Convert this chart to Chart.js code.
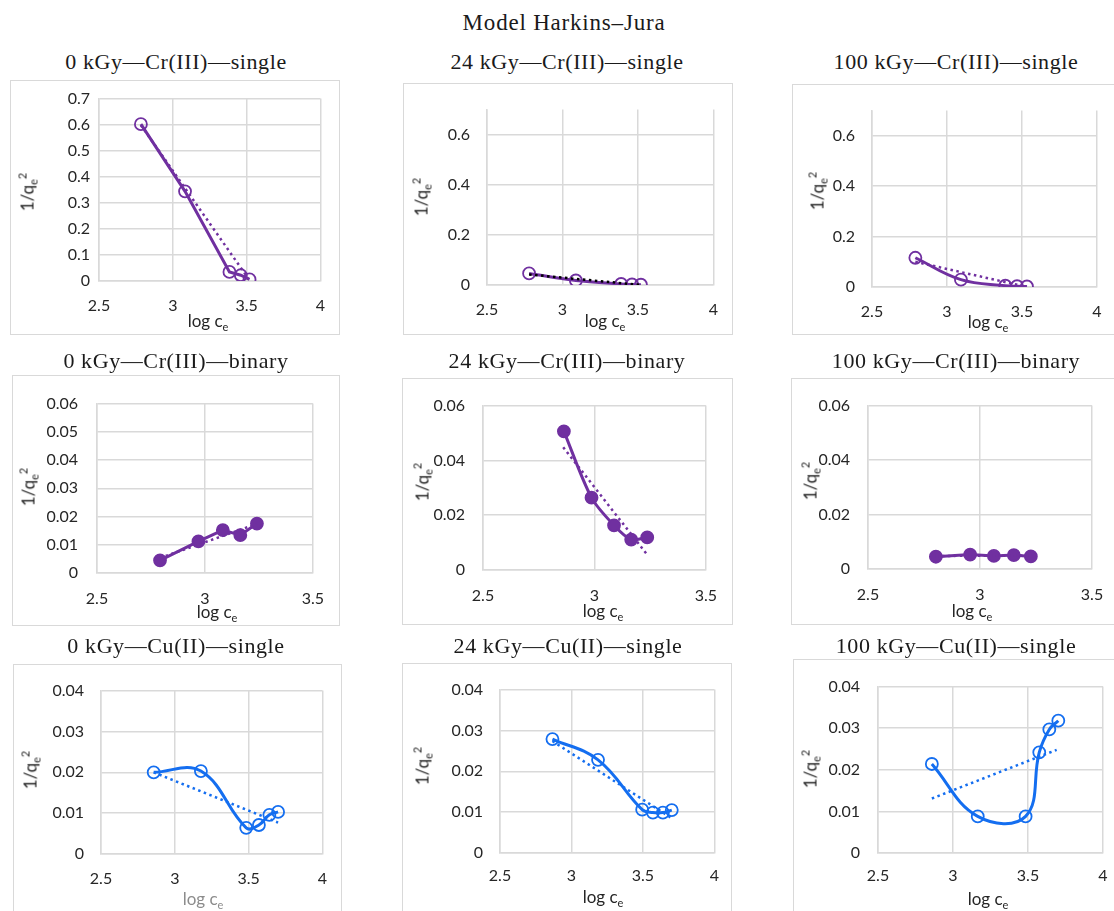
<!DOCTYPE html>
<html>
<head>
<meta charset="utf-8">
<title>Model Harkins–Jura</title>
<script src="https://cdn.jsdelivr.net/npm/chart.js@4.4.1/dist/chart.umd.min.js"></script>
<style>
    body { margin: 0; background: #fff; width: 1114px; height: 911px; overflow: hidden; position: relative; }
    .box { position: absolute; border: 1.5px solid #d9d9d9; box-sizing: border-box; }
    .chart { position: absolute; }
    .ttl { position: absolute; font-family: "Liberation Serif", serif; font-size: 22px; line-height: 22px;
           letter-spacing: 0.6px; color: #1a1a1a; white-space: nowrap; transform: translateX(-50%); }
    .xtitle, .ytitle { position: absolute; font-family: Lato, sans-serif; font-size: 17px; line-height: 17px;
                       color: #262626; white-space: nowrap; }
    .xtitle { transform: translateX(-50%); }
    .ytitle { transform: translate(-50%, -50%) rotate(-90deg); }
    sub, sup { font-size: 11px; line-height: 0; }
</style>
</head>
<body>
<div class="ttl" style="left:564px; top:12px; font-size:23px; letter-spacing:0.8px;">Model Harkins–Jura</div>

<script>
// ---- tick labels ----
const xTicksWide = [2.5, 3, 3.5, 4];
const xTicksNarrow = [2.5, 3, 3.5];
const yTicksTenths = [0, 0.1, 0.2, 0.3, 0.4, 0.5, 0.6, 0.7];
const yTicksFifths = [0, 0.2, 0.4, 0.6];
const yTicksBinaryFine = [0, 0.01, 0.02, 0.03, 0.04, 0.05, 0.06];
const yTicksBinary = [0, 0.02, 0.04, 0.06];
const yTicksCopper = [0, 0.01, 0.02, 0.03, 0.04];

// ---- Cr(III) single (log ce, 1/qe^2) ----
const logCe_0_CrSingle = [2.784, 3.083, 3.384, 3.461, 3.520];
const invQ2_0_CrSingle = [0.602, 0.344, 0.035, 0.022, 0.006];
const trend_0_CrSingle = [[2.784, 0.598], [3.509, 0.012]];

const logCe_24_CrSingle = [2.779, 3.089, 3.389, 3.461, 3.520];
const invQ2_24_CrSingle = [0.046, 0.018, 0.004, 0.002, 0.001];
const trend_24_CrSingle = [[2.779, 0.042], [3.520, 0.0]];

const logCe_100_CrSingle = [2.789, 3.093, 3.389, 3.467, 3.533];
const invQ2_100_CrSingle = [0.116, 0.029, 0.005, 0.003, 0.002];
const trend_100_CrSingle = [[2.789, 0.100], [3.533, 0.0]];

// ---- Cr(III) binary ----
const logCe_0_CrBinary = [2.792, 2.970, 3.083, 3.164, 3.241];
const invQ2_0_CrBinary = [0.0045, 0.0112, 0.0152, 0.0134, 0.0175];
const trend_0_CrBinary = [[2.792, 0.0053], [3.241, 0.0174]];

const logCe_24_CrBinary = [2.863, 2.987, 3.088, 3.165, 3.237];
const invQ2_24_CrBinary = [0.0506, 0.0264, 0.0163, 0.0111, 0.0119];
const trend_24_CrBinary = [[2.860, 0.0448], [3.232, 0.0061]];

const logCe_100_CrBinary = [2.803, 2.956, 3.062, 3.151, 3.227];
const invQ2_100_CrBinary = [0.0045, 0.0053, 0.0048, 0.0051, 0.0046];
const trend_100_CrBinary = [[2.803, 0.0048], [3.227, 0.0049]];

// ---- Cu(II) single ----
const logCe_0_CuSingle = [2.857, 3.177, 3.484, 3.570, 3.641, 3.700];
const invQ2_0_CuSingle = [0.0200, 0.0203, 0.0064, 0.0071, 0.0096, 0.0103];
const trend_0_CuSingle = [[2.857, 0.0200], [3.700, 0.0077]];

const logCe_24_CuSingle = [2.867, 3.186, 3.495, 3.570, 3.640, 3.702];
const invQ2_24_CuSingle = [0.0279, 0.0228, 0.0106, 0.0099, 0.0099, 0.0105];
const trend_24_CuSingle = [[2.867, 0.0274], [3.702, 0.0085]];

const logCe_100_CuSingle = [2.859, 3.165, 3.484, 3.575, 3.642, 3.702];
const invQ2_100_CuSingle = [0.0214, 0.0088, 0.0088, 0.0242, 0.0297, 0.0318];
const trend_100_CuSingle = [[2.859, 0.0131], [3.691, 0.0248]];

const purple = '#7030A0';
const blue = '#146EF0';

// layout of each panel: box & plot = [left, top, right, bottom] in page px
const panels = [
    { title: '0 kGy—Cr(III)—single', xs: logCe_0_CrSingle, ys: invQ2_0_CrSingle, trend: trend_0_CrSingle,
      xTicks: xTicksWide, yTicks: yTicksTenths, yMax: 0.7, color: purple, trendColor: purple, filled: false, tension: 0,
      box: [10, 80, 340, 335], plot: [99, 94, 328, 281], titleX: 176, titleTop: 51, xt: [208, 312], yt: [27, 192], yPad: 9, xPad: 15 },
    { title: '24 kGy—Cr(III)—single', xs: logCe_24_CrSingle, ys: invQ2_24_CrSingle, trend: trend_24_CrSingle,
      xTicks: xTicksWide, yTicks: yTicksFifths, yMax: 0.7, color: purple, trendColor: '#000', filled: false, tension: 0.3,
      box: [403, 83, 733, 335], plot: [487, 93, 717, 285], titleX: 567, titleTop: 51, xt: [605, 312], yt: [421, 197], yPad: 17, xPad: 15 },
    { title: '100 kGy—Cr(III)—single', xs: logCe_100_CrSingle, ys: invQ2_100_CrSingle, trend: trend_100_CrSingle,
      xTicks: xTicksWide, yTicks: yTicksFifths, yMax: 0.7, color: purple, trendColor: purple, filled: false, tension: 0.4,
      box: [792, 84, 1125, 335], plot: [872, 93, 1097, 287], titleX: 956, titleTop: 51, xt: [988, 313], yt: [817, 191], yPad: 17, xPad: 15 },

    { title: '0 kGy—Cr(III)—binary', xs: logCe_0_CrBinary, ys: invQ2_0_CrBinary, trend: trend_0_CrBinary,
      xTicks: xTicksNarrow, yTicks: yTicksBinaryFine, yMax: 0.06, color: purple, trendColor: purple, filled: true, tension: 0,
      box: [12, 375, 340, 626], plot: [97, 387, 322, 573], titleX: 176, titleTop: 350, xt: [217, 603], yt: [28, 487], yPad: 19, xPad: 16 },
    { title: '24 kGy—Cr(III)—binary', xs: logCe_24_CrBinary, ys: invQ2_24_CrBinary, trend: trend_24_CrBinary,
      xTicks: xTicksNarrow, yTicks: yTicksBinary, yMax: 0.06, color: purple, trendColor: purple, filled: true, tension: 0.3,
      box: [402, 378, 733, 625], plot: [483, 390, 707, 570], titleX: 567, titleTop: 350, xt: [603, 602], yt: [422, 482], yPad: 18, xPad: 16 },
    { title: '100 kGy—Cr(III)—binary', xs: logCe_100_CrBinary, ys: invQ2_100_CrBinary, trend: trend_100_CrBinary,
      xTicks: xTicksNarrow, yTicks: yTicksBinary, yMax: 0.06, color: purple, trendColor: purple, filled: true, tension: 0,
      box: [791, 378, 1125, 625], plot: [868, 393, 1092, 569], titleX: 956, titleTop: 350, xt: [972, 602], yt: [810, 481], yPad: 18, xPad: 16 },

    { title: '0 kGy—Cu(II)—single', xs: logCe_0_CuSingle, ys: invQ2_0_CuSingle, trend: trend_0_CuSingle,
      xTicks: xTicksWide, yTicks: yTicksCopper, yMax: 0.04, color: blue, trendColor: blue, filled: false, tension: 0.4,
      box: [13, 664, 342, 915], plot: [101, 676, 324, 854], titleX: 176, titleTop: 635, xt: [203, 890], yt: [30, 770], yPad: 17, xPad: 15, xtGrey: true },
    { title: '24 kGy—Cu(II)—single', xs: logCe_24_CuSingle, ys: invQ2_24_CuSingle, trend: trend_24_CuSingle,
      xTicks: xTicksWide, yTicks: yTicksCopper, yMax: 0.04, color: blue, trendColor: blue, filled: false, tension: 0.4,
      box: [402, 663, 732, 915], plot: [500, 678, 715, 853], titleX: 568, titleTop: 635, xt: [603, 888], yt: [422, 766], yPad: 17, xPad: 13 },
    { title: '100 kGy—Cu(II)—single', xs: logCe_100_CuSingle, ys: invQ2_100_CuSingle, trend: trend_100_CuSingle,
      xTicks: xTicksWide, yTicks: yTicksCopper, yMax: 0.04, color: blue, trendColor: blue, filled: false, tension: 0.4,
      box: [793, 659, 1125, 915], plot: [878, 673, 1103, 853], titleX: 956, titleTop: 635, xt: [988, 890], yt: [810, 769], yPad: 18, xPad: 13 }
];

Chart.defaults.font.family = 'Lato';
Chart.defaults.font.size = 16;
Chart.defaults.color = '#262626';

function addDiv(cls, html, styles) {
    const d = document.createElement('div');
    d.className = cls;
    d.innerHTML = html;
    Object.assign(d.style, styles);
    document.body.appendChild(d);
    return d;
}

panels.forEach(p => {
    const [bl, bt, br, bb] = p.box;
    const [pl, pt, pr, pb] = p.plot;
    const w = br - bl, h = bb - bt;

    addDiv('box', '', { left: bl + 'px', top: bt + 'px', width: w + 'px', height: h + 'px' });

    const canvas = document.createElement('canvas');
    canvas.className = 'chart';
    canvas.width = w;
    canvas.height = h;
    canvas.style.left = bl + 'px';
    canvas.style.top = bt + 'px';
    canvas.style.width = w + 'px';
    canvas.style.height = h + 'px';
    document.body.appendChild(canvas);

    // titles as real text
    addDiv('ttl', p.title, { left: p.titleX + 'px', top: p.titleTop + 'px' });
    const xt = addDiv('xtitle', 'log c<sub>e</sub>', { left: p.xt[0] + 'px', top: p.xt[1] + 'px' });
    if (p.xtGrey) xt.style.color = '#8c8c8c';
    addDiv('ytitle', '1/q<sub>e</sub><sup>2</sup>', { left: p.yt[0] + 'px', top: p.yt[1] + 'px' });

    const gridStyle = { color: '#d9d9d9', lineWidth: 1.5, drawTicks: false };

    new Chart(canvas, {
        type: 'scatter',
        data: {
            datasets: [
                {
                    // dotted trend line, drawn on top
                    data: p.trend.map(([x, y]) => ({ x, y })),
                    showLine: true,
                    borderColor: p.trendColor,
                    borderWidth: 2.5,
                    borderDash: [2.5, 3.5],
                    pointRadius: 0,
                    order: 0
                },
                {
                    data: p.xs.map((x, i) => ({ x, y: p.ys[i] })),
                    showLine: true,
                    borderColor: p.color,
                    borderWidth: 3,
                    tension: p.tension,
                    pointRadius: 6,
                    pointBorderWidth: 1.8,
                    pointBorderColor: p.color,
                    pointBackgroundColor: p.filled ? p.color : 'rgba(0,0,0,0)',
                    order: 1
                }
            ]
        },
        options: {
            responsive: false,
            animation: false,
            layout: { padding: { left: 0, top: pt - bt, right: br - pr, bottom: 0 } },
            plugins: { legend: { display: false }, tooltip: { enabled: false } },
            scales: {
                x: {
                    type: 'linear',
                    min: p.xTicks[0],
                    max: p.xTicks[p.xTicks.length - 1],
                    afterBuildTicks: axis => { axis.ticks = p.xTicks.map(v => ({ value: v })); },
                    afterFit: axis => { axis.height = bb - pb; },
                    grid: gridStyle,
                    border: { color: '#d9d9d9', width: 1.5 },
                    ticks: { padding: p.xPad, maxRotation: 0, callback: v => String(v) }
                },
                y: {
                    type: 'linear',
                    min: 0,
                    max: p.yMax,
                    afterBuildTicks: axis => { axis.ticks = p.yTicks.map(v => ({ value: v })); },
                    afterFit: axis => { axis.width = pl - bl; },
                    grid: gridStyle,
                    border: { color: '#d9d9d9', width: 1.5 },
                    ticks: { padding: p.yPad, callback: v => String(v) }
                }
            }
        }
    });
});
</script>
</body>
</html>
